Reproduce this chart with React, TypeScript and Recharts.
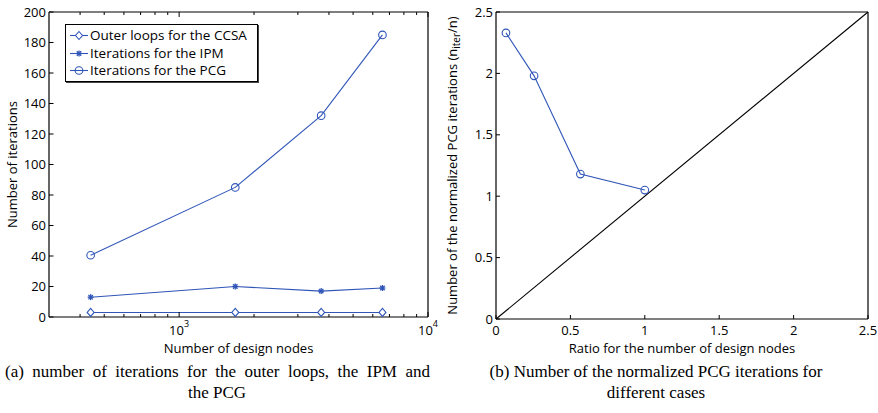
import { Legend, Line, LineChart, XAxis, YAxis } from "recharts"

// Left panel: iteration counts against the number of design nodes (log x).
const NODES = [441, 1681, 3721, 6561]
const CCSA_LOOPS = [3, 3, 3, 3]
const IPM_ITERS = [13, 20, 17, 19]
const PCG_ITERS = [40.5, 85, 132, 185]

// Right panel: normalized PCG iterations against the node ratio.
const NODE_RATIO = [0.067, 0.256, 0.567, 1.0]
const NORM_PCG = [2.33, 1.98, 1.18, 1.05]
const DIAG_X = [0, 2.5]

const LOG_MAJOR = [1000, 10000]
const LOG_TICKS = [400, 500, 600, 700, 800, 900, 1000, 2000, 3000, 4000, 5000, 6000, 7000, 8000, 9000, 10000]
const LEFT_Y_TICKS = [0, 20, 40, 60, 80, 100, 120, 140, 160, 180, 200]
const RIGHT_TICKS = [0, 0.5, 1, 1.5, 2, 2.5]

const LEGEND_ITEMS = [
  { name: "Outer loops for the CCSA", shape: "diamond" },
  { name: "Iterations for the IPM", shape: "star" },
  { name: "Iterations for the PCG", shape: "circle" },
]

const BLUE = "#2f55b8"
const FONT = "'Open Sans', Lato, sans-serif"
const TICK_FONT = 13

const leftRows = NODES.map((n, i) => ({
  nodes: n,
  ccsa: CCSA_LOOPS[i],
  ipm: IPM_ITERS[i],
  pcg: PCG_ITERS[i],
}))
const normRows = NODE_RATIO.map((r, i) => ({ x: r, y: NORM_PCG[i] }))
const diagRows = DIAG_X.map((v) => ({ x: v, y: v }))

function Marker({ shape, cx, cy }: { shape: string; cx: number; cy: number }) {
  if (shape === "diamond") {
    return (
      <path
        d={`M${cx},${cy - 4}L${cx + 3.5},${cy}L${cx},${cy + 4}L${cx - 3.5},${cy}Z`}
        fill="#fff"
        stroke={BLUE}
        strokeWidth={1.1}
      />
    )
  }
  if (shape === "star") {
    const s = 3
    return (
      <g stroke={BLUE} strokeWidth={1.3}>
        <line x1={cx - s} x2={cx + s} y1={cy} y2={cy} />
        <line x1={cx} x2={cx} y1={cy - s} y2={cy + s} />
        <line x1={cx - 2.2} x2={cx + 2.2} y1={cy - 2.2} y2={cy + 2.2} />
        <line x1={cx - 2.2} x2={cx + 2.2} y1={cy + 2.2} y2={cy - 2.2} />
      </g>
    )
  }
  return <circle cx={cx} cy={cy} r={3.8} fill="none" stroke={BLUE} strokeWidth={1.1} />
}

const dotFor = (shape: string) => (p: any) => <Marker key={p.index} shape={shape} cx={p.cx} cy={p.cy} />

// tick renderers: tickSize/tickMargin are 0, so x/y sit on the plot edge
const logTickBottom = ({ x, y, payload }: any) => {
  const major = LOG_MAJOR.includes(payload.value)
  return (
    <g>
      <line x1={x} x2={x} y1={y} y2={y - (major ? 5 : 3)} stroke="#000" />
      {major && (
        <text x={x} y={y + 18} textAnchor="middle" fontSize={TICK_FONT} fontFamily={FONT} fill="#000">
          10
          <tspan dy={-8} fontSize={9}>
            {Math.round(Math.log10(payload.value))}
          </tspan>
        </text>
      )}
    </g>
  )
}
const logTickTop = ({ x, y, payload }: any) => {
  const major = LOG_MAJOR.includes(payload.value)
  return <line x1={x} x2={x} y1={y} y2={y + (major ? 5 : 3)} stroke="#000" />
}

const numTickBottom = (len: number) => ({ x, y, payload }: any) => (
  <g>
    <line x1={x} x2={x} y1={y} y2={y - len} stroke="#000" />
    <text x={x} y={y + 16} textAnchor="middle" fontSize={TICK_FONT} fontFamily={FONT} fill="#000">
      {payload.value}
    </text>
  </g>
)
const numTickTop = (len: number) => ({ x, y }: any) => (
  <line x1={x} x2={x} y1={y} y2={y + len} stroke="#000" />
)
const yTickLeft = (len: number) => ({ x, y, payload }: any) => (
  <g>
    <line x1={x} x2={x + len} y1={y} y2={y} stroke="#000" />
    <text x={x - 3} y={y} dy="0.36em" textAnchor="end" fontSize={TICK_FONT} fontFamily={FONT} fill="#000">
      {payload.value}
    </text>
  </g>
)
const yTickRight = (len: number) => ({ x, y }: any) => (
  <line x1={x} x2={x - len} y1={y} y2={y} stroke="#000" />
)

const yTitle = (dx: number, children: any) => (props: any) => {
  const { x, y, height } = props.viewBox
  const cx = x - dx
  const cy = y + height / 2
  return (
    <text
      x={cx}
      y={cy}
      transform={`rotate(-90 ${cx} ${cy})`}
      textAnchor="middle"
      fontSize={TICK_FONT}
      fontFamily={FONT}
      fill="#000"
    >
      {children}
    </text>
  )
}

const xTitle = (value: string, offset: number) => ({
  value,
  position: "bottom" as const,
  offset,
  fill: "#000",
  fontSize: TICK_FONT,
  fontFamily: FONT,
})

const axisLine = { stroke: "#000", strokeWidth: 1.2 }

// axes get a 1px band (0 would hide them), margins are 1px smaller to compensate
const axisBand = { tickSize: 0, tickMargin: 0, tickLine: false, axisLine, interval: 0 as const }

function renderLegend() {
  return (
    <div
      style={{
        width: 193,
        boxSizing: "border-box",
        border: "1px solid #000",
        boxShadow: "1px 1px 0 #444",
        background: "#fff",
        padding: "2px 0 1px 3px",
        fontFamily: FONT,
        fontSize: 13.5,
        lineHeight: "17.5px",
        whiteSpace: "nowrap",
      }}
    >
      {LEGEND_ITEMS.map((item) => (
        <div key={item.name} style={{ display: "flex", alignItems: "center" }}>
          <svg width={20} height={17} style={{ marginRight: 1 }}>
            <line x1={1} x2={19} y1={8.5} y2={8.5} stroke={BLUE} strokeWidth={1.1} />
            <Marker shape={item.shape} cx={10} cy={8.5} />
          </svg>
          <span>{item.name}</span>
        </div>
      ))}
    </div>
  )
}

function IterationsChart() {
  return (
    <LineChart width={440} height={360} data={leftRows} margin={{ top: 11, right: 11, bottom: 42, left: 48 }}>
      <XAxis
        xAxisId="b"
        type="number"
        dataKey="nodes"
        scale="log"
        domain={[300, 10000]}
        ticks={LOG_TICKS}
        height={1}
        {...axisBand}
        tick={logTickBottom}
        label={xTitle("Number of design nodes", 26)}
      />
      <XAxis
        xAxisId="t"
        orientation="top"
        type="number"
        dataKey="nodes"
        scale="log"
        domain={[300, 10000]}
        ticks={LOG_TICKS}
        height={1}
        {...axisBand}
        tick={logTickTop}
      />
      <YAxis
        yAxisId="l"
        type="number"
        domain={[0, 200]}
        ticks={LEFT_Y_TICKS}
        width={1}
        {...axisBand}
        tick={yTickLeft(4.5)}
        label={{ content: yTitle(31, "Number of iterations") }}
      />
      <YAxis
        yAxisId="r"
        orientation="right"
        type="number"
        domain={[0, 200]}
        ticks={LEFT_Y_TICKS}
        width={1}
        {...axisBand}
        tick={yTickRight(4.5)}
      />
      <Legend
        layout="vertical"
        align="center"
        verticalAlign="middle"
        wrapperStyle={{ left: 65, top: 24, width: "auto", height: "auto" }}
        content={renderLegend}
      />
      <Line xAxisId="b" yAxisId="l" dataKey="ccsa" stroke={BLUE} strokeWidth={1.1} dot={dotFor("diamond")} isAnimationActive={false} />
      <Line xAxisId="b" yAxisId="l" dataKey="ipm" stroke={BLUE} strokeWidth={1.1} dot={dotFor("star")} isAnimationActive={false} />
      <Line xAxisId="b" yAxisId="l" dataKey="pcg" stroke={BLUE} strokeWidth={1.1} dot={dotFor("circle")} isAnimationActive={false} />
    </LineChart>
  )
}

function NormalizedChart() {
  return (
    <LineChart width={438} height={360} margin={{ top: 11, right: 9, bottom: 40, left: 55 }}>
      <XAxis
        xAxisId="b"
        type="number"
        dataKey="x"
        domain={[0, 2.5]}
        ticks={RIGHT_TICKS}
        height={1}
        {...axisBand}
        tick={numTickBottom(4)}
        label={xTitle("Ratio for the number of design nodes", 24)}
      />
      <XAxis
        xAxisId="t"
        orientation="top"
        type="number"
        dataKey="x"
        domain={[0, 2.5]}
        ticks={RIGHT_TICKS}
        height={1}
        {...axisBand}
        tick={numTickTop(4)}
      />
      <YAxis
        yAxisId="l"
        type="number"
        domain={[0, 2.5]}
        ticks={RIGHT_TICKS}
        width={1}
        {...axisBand}
        tick={yTickLeft(4)}
        label={{
          content: yTitle(
            38,
            <>
              Number of the normalized PCG iterations (n
              <tspan dy={3} fontSize={10}>
                iter
              </tspan>
              <tspan dy={-3}>/n)</tspan>
            </>
          ),
        }}
      />
      <YAxis
        yAxisId="r"
        orientation="right"
        type="number"
        domain={[0, 2.5]}
        ticks={RIGHT_TICKS}
        width={1}
        {...axisBand}
        tick={yTickRight(4)}
      />
      <Line xAxisId="b" yAxisId="l" data={diagRows} dataKey="y" stroke="#000" strokeWidth={1.1} dot={false} isAnimationActive={false} />
      <Line xAxisId="b" yAxisId="l" data={normRows} dataKey="y" stroke={BLUE} strokeWidth={1.1} dot={dotFor("circle")} isAnimationActive={false} />
    </LineChart>
  )
}

const captionStyle = {
  position: "absolute" as const,
  fontFamily: "'Liberation Serif', serif",
  fontSize: 17,
  lineHeight: "21px",
  whiteSpace: "nowrap" as const,
  color: "#000",
}

export default function App() {
  return (
    <div style={{ position: "absolute", left: 0, top: 0, width: 878, height: 413, background: "#fff" }}>
      <div style={{ position: "absolute", left: 0, top: 0 }}>
        <IterationsChart />
      </div>
      <div style={{ position: "absolute", left: 440, top: 0 }}>
        <NormalizedChart />
      </div>
      <div style={{ ...captionStyle, left: 5, top: 361, width: 425, textAlign: "justify", textAlignLast: "justify" }}>
        (a) number of iterations for the outer loops, the IPM and
      </div>
      <div style={{ ...captionStyle, left: 0, top: 382, width: 434, textAlign: "center" }}>the PCG</div>
      <div style={{ ...captionStyle, left: 440, top: 361, width: 432, textAlign: "center" }}>
        (b) Number of the normalized PCG iterations for
        <br />
        different cases
      </div>
    </div>
  )
}
